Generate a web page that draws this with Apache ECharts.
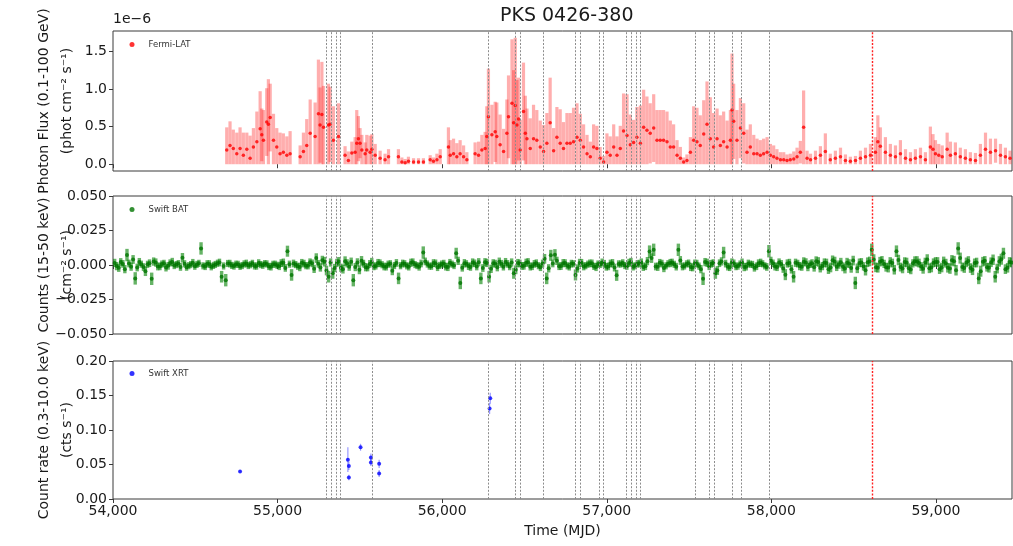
<!DOCTYPE html>
<html><head><meta charset="utf-8">
<script src="https://cdn.jsdelivr.net/npm/echarts@6/dist/echarts.min.js"></script>
<style>html,body{margin:0;padding:0;background:#fff}#c{width:1013px;height:546px}</style>
</head><body><div id="c"></div>
<script>
// ---- Fermi-LAT photon flux (units of 1e-6 phot cm^-2 s^-1) ----
const fermiT = [
54691,54711,54731,54752,54772,54792,54813,54833,54853,54874,
54894,54904,54914,54934,54944,54955,54975,54995,55015,55035,
55056,55076,55137,55157,55177,55198,55228,55248,55258,55269,
55279,55309,55319,55339,55370,55410,55430,55451,55471,55481,
55491,55501,55512,55532,55542,55562,55573,55593,55623,55653,
55674,55734,55755,55775,55795,55826,55856,55886,55927,55947,
55968,55988,56038,56049,56069,56089,56109,56130,56150,56200,
56221,56241,56261,56271,56281,56302,56322,56332,56352,56373,
56393,56403,56424,56434,56444,56454,56464,56474,56494,56505,
56515,56535,56555,56575,56596,56616,56636,56656,56677,56697,
56717,56737,56758,56778,56798,56819,56839,56859,56880,56900,
56920,56940,56960,56981,57001,57021,57042,57062,57082,57102,
57123,57143,57163,57183,57204,57224,57244,57264,57285,57305,
57325,57345,57366,57386,57406,57427,57447,57467,57487,57508,
57528,57548,57568,57589,57609,57629,57649,57670,57690,57710,
57731,57751,57761,57771,57791,57812,57832,57852,57872,57893,
57913,57933,57953,57974,57994,58014,58034,58055,58075,58095,
58115,58136,58156,58176,58196,58217,58238,58268,58298,58328,
58358,58389,58420,58450,58480,58511,58541,58572,58602,58632,
58647,58662,58693,58723,58754,58784,58815,58845,58875,58906,
58936,58966,58982,58997,59017,59038,59068,59088,59118,59148,
59179,59209,59240,59270,59301,59331,59362,59392,59422,59450];
const fermiFlux = [
0.19,0.25,0.21,0.14,0.21,0.12,0.20,0.08,0.23,0.30,
0.47,0.39,0.32,0.56,0.53,0.62,0.32,0.23,0.14,0.16,
0.12,0.14,0.10,0.17,0.25,0.41,0.37,0.67,0.52,0.66,
0.49,0.52,0.53,0.32,0.37,0.12,0.05,0.15,0.16,0.28,
0.34,0.28,0.19,0.14,0.19,0.16,0.20,0.12,0.08,0.06,
0.10,0.10,0.03,0.02,0.04,0.03,0.03,0.03,0.06,0.04,
0.06,0.10,0.23,0.12,0.14,0.10,0.14,0.10,0.06,0.14,
0.12,0.19,0.21,0.37,0.63,0.39,0.43,0.37,0.26,0.17,
0.41,0.63,0.81,0.55,0.78,0.52,0.60,0.19,0.70,0.41,
0.34,0.21,0.34,0.32,0.23,0.17,0.28,0.55,0.18,0.36,
0.28,0.21,0.28,0.28,0.30,0.36,0.32,0.23,0.14,0.10,
0.23,0.21,0.08,0.03,0.16,0.12,0.23,0.12,0.21,0.44,
0.38,0.26,0.29,0.36,0.28,0.49,0.45,0.41,0.48,0.32,
0.32,0.32,0.30,0.23,0.23,0.12,0.08,0.03,0.05,0.16,
0.32,0.30,0.25,0.40,0.53,0.34,0.23,0.34,0.25,0.30,
0.23,0.32,0.72,0.57,0.32,0.48,0.41,0.16,0.23,0.14,
0.14,0.12,0.14,0.16,0.12,0.10,0.08,0.06,0.06,0.05,
0.06,0.07,0.10,0.16,0.49,0.08,0.06,0.08,0.12,0.17,
0.06,0.08,0.10,0.05,0.04,0.05,0.08,0.10,0.12,0.16,
0.30,0.24,0.16,0.12,0.10,0.14,0.08,0.06,0.08,0.10,
0.06,0.23,0.20,0.14,0.12,0.10,0.20,0.12,0.14,0.10,
0.08,0.06,0.05,0.12,0.20,0.16,0.18,0.12,0.10,0.08];
const fermiErr = [
0.30,0.32,0.25,0.28,0.28,0.30,0.22,0.30,0.25,0.40,
0.50,0.35,0.40,0.45,0.60,0.45,0.35,0.25,0.28,0.25,
0.25,0.30,0.15,0.25,0.35,0.45,0.45,0.72,0.50,0.70,
0.55,0.55,0.50,0.45,0.44,0.12,0.12,0.15,0.20,0.44,
0.30,0.20,0.20,0.15,0.20,0.22,0.20,0.15,0.10,0.08,
0.10,0.10,0.06,0.05,0.06,0.05,0.05,0.05,0.06,0.05,
0.08,0.10,0.26,0.20,0.20,0.18,0.18,0.15,0.10,0.15,
0.18,0.20,0.22,0.40,0.64,0.40,0.40,0.45,0.40,0.30,
0.45,0.55,0.85,0.70,0.90,0.60,0.55,0.40,0.65,0.50,
0.40,0.40,0.45,0.40,0.35,0.35,0.40,0.60,0.30,0.40,
0.45,0.35,0.40,0.40,0.45,0.45,0.35,0.30,0.25,0.20,
0.30,0.30,0.15,0.08,0.25,0.25,0.30,0.25,0.30,0.50,
0.55,0.40,0.30,0.40,0.50,0.50,0.45,0.40,0.45,0.40,
0.40,0.40,0.40,0.35,0.30,0.20,0.15,0.06,0.08,0.20,
0.45,0.45,0.40,0.45,0.57,0.55,0.45,0.40,0.40,0.40,
0.35,0.40,0.75,0.50,0.40,0.40,0.40,0.30,0.30,0.25,
0.20,0.20,0.20,0.20,0.15,0.15,0.12,0.10,0.10,0.08,
0.08,0.10,0.12,0.15,0.49,0.10,0.08,0.10,0.12,0.24,
0.08,0.10,0.12,0.08,0.06,0.06,0.10,0.12,0.15,0.20,
0.35,0.25,0.20,0.15,0.15,0.18,0.12,0.10,0.12,0.12,
0.10,0.27,0.20,0.18,0.15,0.15,0.22,0.18,0.15,0.12,
0.12,0.10,0.10,0.15,0.22,0.18,0.16,0.15,0.12,0.10];

// ---- Swift BAT counts (cm^-2 s^-1), bins A ----
const batT = [
54010,54035,54060,54085,54110,54135,54160,54185,54210,54235,
54260,54285,54310,54335,54360,54385,54410,54435,54460,54485,
54510,54535,54560,54585,54610,54635,54660,54685,54710,54735,
54760,54785,54810,54835,54860,54885,54910,54935,54960,54985,
55010,55035,55060,55085,55110,55135,55160,55185,55210,55235,
55260,55285,55310,55335,55360,55385,55410,55435,55460,55485,
55510,55535,55560,55585,55610,55635,55660,55685,55710,55735,
55760,55785,55810,55835,55860,55885,55910,55935,55960,55985,
56010,56035,56060,56085,56110,56135,56160,56185,56210,56235,
56260,56285,56310,56335,56360,56385,56410,56435,56460,56485,
56510,56535,56560,56585,56610,56635,56660,56685,56710,56735,
56760,56785,56810,56835,56860,56885,56910,56935,56960,56985,
57010,57035,57060,57085,57110,57135,57160,57185,57210,57235,
57260,57285,57310,57335,57360,57385,57410,57435,57460,57485,
57510,57535,57560,57585,57610,57635,57660,57685,57710,57735,
57760,57785,57810,57835,57860,57885,57910,57935,57960,57985,
58010,58035,58060,58085,58110,58135,58160,58185,58210,58235,
58260,58285,58310,58335,58360,58385,58410,58435,58460,58485,
58510,58535,58560,58585,58610,58635,58660,58685,58710,58735,
58760,58785,58810,58835,58860,58885,58910,58935,58960,58985,
59010,59035,59060,59085,59110,59135,59160,59185,59210,59235,
59260,59285,59310,59335,59360,59385,59410,59435,59460];
const batRate = [
0.0015,-0.0020,0.0008,0.0072,-0.0012,-0.0097,0.0021,-0.0015,0.0005,-0.0100,
0.0018,-0.0010,0.0012,-0.0006,0.0022,0.0003,-0.0014,0.0009,-0.0005,0.0016,
0.0004,0.0120,-0.0011,0.0007,-0.0003,0.0013,-0.0085,-0.0110,0.0010,-0.0008,
0.0005,-0.0004,0.0011,0.0002,-0.0007,0.0014,-0.0002,0.0008,-0.0012,0.0006,
-0.0009,0.0017,0.0100,-0.0072,0.0003,-0.0015,0.0010,-0.0006,0.0012,0.0050,
-0.0018,0.0024,-0.0085,-0.0060,0.0015,-0.0020,0.0028,-0.0012,-0.0110,0.0019,
0.0030,-0.0016,0.0008,-0.0010,0.0014,0.0002,-0.0012,0.0009,-0.0004,-0.0097,
0.0011,-0.0006,0.0016,0.0003,-0.0013,0.0090,0.0007,-0.0009,0.0012,-0.0003,
0.0010,-0.0014,0.0006,0.0085,-0.0130,0.0013,-0.0008,0.0018,-0.0011,-0.0097,
0.0020,-0.0085,0.0012,-0.0016,0.0009,0.0021,-0.0010,-0.0060,0.0014,-0.0007,
0.0016,-0.0012,0.0008,-0.0005,0.0011,-0.0097,0.0070,0.0075,-0.0009,0.0013,
-0.0006,0.0010,-0.0072,0.0015,-0.0011,0.0006,0.0012,-0.0014,0.0004,0.0009,
-0.0010,0.0013,-0.0075,0.0007,-0.0004,0.0015,-0.0012,0.0008,0.0018,-0.0009,
0.0097,0.0110,-0.0013,0.0010,-0.0006,0.0014,0.0005,0.0110,-0.0011,0.0008,
-0.0014,0.0012,-0.0008,-0.0100,0.0016,0.0009,-0.0060,0.0013,0.0090,-0.0012,
0.0018,-0.0010,0.0007,-0.0015,0.0011,0.0004,-0.0009,0.0016,-0.0006,0.0100,
0.0012,-0.0014,0.0008,-0.0070,0.0015,-0.0085,0.0010,-0.0012,0.0019,0.0006,
-0.0016,0.0022,-0.0008,0.0014,-0.0018,0.0025,0.0003,-0.0013,0.0017,-0.0021,
-0.0130,0.0015,-0.0010,0.0020,0.0110,-0.0017,0.0024,0.0008,-0.0019,0.0014,
0.0100,-0.0015,0.0021,-0.0023,0.0012,0.0026,-0.0011,0.0018,-0.0024,0.0016,
0.0022,-0.0018,0.0013,-0.0026,0.0028,0.0120,-0.0014,0.0019,-0.0022,0.0015,
-0.0097,0.0024,-0.0016,0.0020,-0.0085,0.0026,0.0085,-0.0020,0.0018];
const batErr = [
0.0030,0.0030,0.0028,0.0045,0.0030,0.0045,0.0030,0.0028,0.0026,0.0045,
0.0030,0.0028,0.0026,0.0028,0.0030,0.0026,0.0028,0.0026,0.0026,0.0028,
0.0026,0.0045,0.0026,0.0028,0.0026,0.0026,0.0042,0.0045,0.0028,0.0026,
0.0026,0.0026,0.0028,0.0026,0.0026,0.0028,0.0026,0.0026,0.0028,0.0026,
0.0028,0.0030,0.0040,0.0042,0.0026,0.0030,0.0028,0.0026,0.0028,0.0035,
0.0030,0.0035,0.0042,0.0040,0.0030,0.0030,0.0035,0.0030,0.0045,0.0030,
0.0035,0.0030,0.0028,0.0028,0.0030,0.0026,0.0028,0.0026,0.0026,0.0042,
0.0028,0.0026,0.0030,0.0026,0.0028,0.0045,0.0026,0.0026,0.0028,0.0026,
0.0028,0.0030,0.0026,0.0040,0.0045,0.0030,0.0028,0.0030,0.0028,0.0042,
0.0030,0.0042,0.0030,0.0030,0.0028,0.0030,0.0028,0.0040,0.0030,0.0028,
0.0030,0.0028,0.0028,0.0026,0.0028,0.0042,0.0040,0.0040,0.0028,0.0030,
0.0026,0.0028,0.0040,0.0030,0.0028,0.0026,0.0028,0.0030,0.0026,0.0028,
0.0028,0.0030,0.0040,0.0026,0.0026,0.0030,0.0028,0.0026,0.0030,0.0028,
0.0045,0.0045,0.0030,0.0028,0.0026,0.0030,0.0026,0.0045,0.0028,0.0026,
0.0030,0.0028,0.0026,0.0045,0.0030,0.0028,0.0040,0.0028,0.0042,0.0028,
0.0030,0.0028,0.0026,0.0030,0.0028,0.0026,0.0028,0.0030,0.0026,0.0045,
0.0028,0.0030,0.0028,0.0040,0.0030,0.0042,0.0028,0.0030,0.0030,0.0028,
0.0032,0.0035,0.0030,0.0032,0.0035,0.0035,0.0030,0.0032,0.0035,0.0035,
0.0045,0.0032,0.0030,0.0035,0.0045,0.0035,0.0035,0.0030,0.0035,0.0032,
0.0042,0.0032,0.0035,0.0035,0.0030,0.0038,0.0032,0.0035,0.0035,0.0032,
0.0035,0.0035,0.0032,0.0038,0.0038,0.0045,0.0032,0.0035,0.0035,0.0032,
0.0042,0.0035,0.0032,0.0035,0.0042,0.0038,0.0040,0.0035,0.0035];

// ---- Swift BAT counts, bins B (interleaved) ----
const batT2 = [
54022,54047,54072,54097,54122,54147,54172,54197,54222,54247,
54272,54297,54322,54347,54372,54397,54422,54447,54472,54497,
54522,54547,54572,54597,54622,54647,54672,54697,54722,54747,
54772,54797,54822,54847,54872,54897,54922,54947,54972,54997,
55022,55047,55072,55097,55122,55147,55172,55197,55222,55247,
55272,55297,55322,55347,55372,55397,55422,55447,55472,55497,
55522,55547,55572,55597,55622,55647,55672,55697,55722,55747,
55772,55797,55822,55847,55872,55897,55922,55947,55972,55997,
56022,56047,56072,56097,56122,56147,56172,56197,56222,56247,
56272,56297,56322,56347,56372,56397,56422,56447,56472,56497,
56522,56547,56572,56597,56622,56647,56672,56697,56722,56747,
56772,56797,56822,56847,56872,56897,56922,56947,56972,56997,
57022,57047,57072,57097,57122,57147,57172,57197,57222,57247,
57272,57297,57322,57347,57372,57397,57422,57447,57472,57497,
57522,57547,57572,57597,57622,57647,57672,57697,57722,57747,
57772,57797,57822,57847,57872,57897,57922,57947,57972,57997,
58022,58047,58072,58097,58122,58147,58172,58197,58222,58247,
58272,58297,58322,58347,58372,58397,58422,58447,58472,58497,
58522,58547,58572,58597,58622,58647,58672,58697,58722,58747,
58772,58797,58822,58847,58872,58897,58922,58947,58972,58997,
59022,59047,59072,59097,59122,59147,59172,59197,59222,59247,
59272,59297,59322,59347,59372,59397,59422,59447];
const batRate2 = [
-0.0008,0.0022,-0.0030,0.0011,0.0040,-0.0018,0.0006,-0.0045,0.0013,0.0025,
-0.0011,0.0007,-0.0019,0.0015,-0.0004,0.0010,0.0052,-0.0016,0.0003,-0.0009,
0.0012,-0.0006,0.0009,-0.0013,0.0004,0.0018,-0.0007,0.0011,-0.0003,0.0006,
-0.0010,0.0008,-0.0004,0.0012,-0.0008,0.0003,0.0010,-0.0011,0.0005,-0.0002,
0.0014,-0.0021,0.0006,0.0011,-0.0009,0.0016,-0.0005,0.0020,-0.0028,0.0009,
0.0035,-0.0040,0.0018,-0.0022,0.0026,-0.0030,0.0012,0.0024,-0.0015,-0.0035,
0.0010,-0.0018,0.0022,-0.0007,0.0013,-0.0011,0.0006,-0.0042,0.0015,-0.0005,
0.0009,-0.0012,0.0020,-0.0004,0.0011,0.0026,-0.0008,0.0014,-0.0016,0.0007,
-0.0012,0.0016,-0.0004,0.0030,-0.0020,0.0009,-0.0014,0.0012,0.0020,-0.0022,
0.0015,-0.0028,0.0010,0.0024,-0.0012,0.0008,0.0018,-0.0035,0.0011,-0.0006,
0.0020,-0.0009,0.0013,-0.0016,0.0045,-0.0024,0.0011,0.0030,-0.0008,0.0014,
-0.0012,0.0009,-0.0025,0.0016,-0.0005,0.0012,-0.0010,0.0007,0.0019,-0.0013,
0.0011,-0.0019,0.0008,0.0014,-0.0009,0.0022,-0.0006,0.0010,-0.0015,0.0028,
0.0050,-0.0011,0.0016,-0.0022,0.0009,0.0018,-0.0012,0.0033,-0.0007,0.0012,
-0.0018,0.0010,-0.0030,0.0021,-0.0009,0.0014,-0.0040,0.0026,0.0010,-0.0016,
0.0012,-0.0008,0.0019,-0.0012,0.0006,-0.0020,0.0013,0.0009,-0.0014,0.0030,
-0.0010,0.0018,-0.0025,0.0011,-0.0030,0.0016,-0.0008,0.0024,-0.0015,0.0012,
0.0028,-0.0022,0.0016,-0.0030,0.0034,-0.0012,0.0020,-0.0026,0.0010,0.0032,
-0.0024,0.0018,-0.0038,0.0026,0.0040,-0.0020,0.0030,-0.0016,0.0022,-0.0034,
0.0036,-0.0025,0.0018,-0.0032,0.0028,0.0014,-0.0028,0.0040,-0.0018,0.0022,
-0.0030,0.0026,-0.0020,0.0034,-0.0038,0.0050,-0.0022,0.0029,-0.0035,0.0018,
-0.0045,0.0030,-0.0020,0.0038,-0.0026,0.0042,-0.0030,0.0022];
const batErr2 = [
0.0030,0.0028,0.0030,0.0028,0.0032,0.0028,0.0026,0.0035,0.0028,0.0030,
0.0028,0.0026,0.0028,0.0026,0.0026,0.0026,0.0035,0.0026,0.0026,0.0026,
0.0026,0.0026,0.0026,0.0026,0.0026,0.0028,0.0026,0.0026,0.0026,0.0026,
0.0026,0.0026,0.0026,0.0026,0.0026,0.0026,0.0026,0.0026,0.0026,0.0026,
0.0028,0.0028,0.0026,0.0028,0.0026,0.0028,0.0026,0.0028,0.0030,0.0028,
0.0032,0.0035,0.0030,0.0030,0.0032,0.0032,0.0030,0.0030,0.0030,0.0032,
0.0028,0.0028,0.0030,0.0026,0.0028,0.0028,0.0026,0.0032,0.0028,0.0026,
0.0026,0.0028,0.0028,0.0026,0.0028,0.0028,0.0026,0.0028,0.0028,0.0026,
0.0028,0.0028,0.0026,0.0030,0.0028,0.0026,0.0028,0.0028,0.0030,0.0028,
0.0030,0.0030,0.0028,0.0030,0.0028,0.0028,0.0030,0.0032,0.0028,0.0028,
0.0030,0.0028,0.0028,0.0028,0.0035,0.0030,0.0028,0.0030,0.0028,0.0028,
0.0028,0.0026,0.0030,0.0028,0.0026,0.0028,0.0026,0.0026,0.0028,0.0028,
0.0028,0.0028,0.0026,0.0028,0.0026,0.0030,0.0026,0.0028,0.0028,0.0030,
0.0035,0.0028,0.0028,0.0030,0.0026,0.0028,0.0028,0.0032,0.0026,0.0028,
0.0028,0.0028,0.0030,0.0030,0.0028,0.0028,0.0032,0.0030,0.0028,0.0028,
0.0028,0.0026,0.0028,0.0028,0.0026,0.0028,0.0028,0.0026,0.0028,0.0030,
0.0030,0.0030,0.0032,0.0030,0.0032,0.0030,0.0030,0.0032,0.0030,0.0030,
0.0035,0.0032,0.0032,0.0035,0.0035,0.0032,0.0032,0.0035,0.0032,0.0035,
0.0035,0.0032,0.0038,0.0035,0.0038,0.0035,0.0035,0.0032,0.0035,0.0035,
0.0038,0.0035,0.0035,0.0035,0.0035,0.0032,0.0035,0.0038,0.0035,0.0035,
0.0035,0.0035,0.0035,0.0038,0.0038,0.0040,0.0035,0.0035,0.0038,0.0035,
0.0040,0.0035,0.0035,0.0038,0.0035,0.0040,0.0035,0.0035];

// ---- Swift XRT count rate (cts s^-1) ----
const xrtT    = [54772, 55427, 55433, 55433, 55504, 55567, 55567, 55617, 55617, 56288, 56292];
const xrtRate = [0.040, 0.057, 0.048, 0.031, 0.075, 0.060, 0.053, 0.051, 0.037, 0.131, 0.146];
const xrtErr  = [0.002, 0.018, 0.006, 0.004, 0.005, 0.006, 0.005, 0.006, 0.005, 0.008, 0.008];

// ---- marked epochs (MJD) ----
const greyLines = [55295,55325,55356,55380,55578,56278,56445,56474,56614,56806,56839,56952,56981,
                   57119,57147,57178,57204,57538,57625,57651,57761,57820,57986];
const redLines = [58612];

const xTicks = [54000,55000,56000,57000,58000,59000];

const FONT = 'DejaVu Sans';
const TXT = '#1a1a1a';
const AX = '#3a3a3a';

const chart = echarts.init(document.getElementById('c'), null, {renderer:'canvas'});

function errRender(color, width){
  return function(params, api){
    const p1 = api.coord([api.value(0), api.value(1)]);
    const p2 = api.coord([api.value(0), api.value(2)]);
    return {type:'line', shape:{x1:p1[0], y1:p1[1], x2:p2[0], y2:p2[1]},
            style:{stroke:color, lineWidth:width}};
  };
}
const fermiBars = fermiT.map((t,i)=>[t, Math.max(fermiFlux[i]-fermiErr[i],0), fermiFlux[i]+fermiErr[i]]);
const batAllT = batT.concat(batT2), batAllR = batRate.concat(batRate2), batAllE = batErr.concat(batErr2);
const batBars = batAllT.map((t,i)=>[t, batAllR[i]-batAllE[i], batAllR[i]+batAllE[i]]);
const xrtBars = xrtT.map((t,i)=>[t, xrtRate[i]-xrtErr[i], xrtRate[i]+xrtErr[i]]);

function makeMark(){
  return {
    silent:true, symbol:['none','none'], label:{show:false}, animation:false,
    data: greyLines.map(t=>({xAxis:t, lineStyle:{color:'#8c8c8c', width:1, type:[2,1.6]}}))
          .concat(redLines.map(t=>({xAxis:t, lineStyle:{color:'#ff2020', width:1.4, type:[2,1.6]}})))
  };
}

const tops = [31,196,361], heights = [140,138,138];
const fmtMinus = (s)=> s.replace('-', '\u2212');

const option = {
  animation:false,
  backgroundColor:'#fff',
  title:{text:'PKS 0426-380', left:500, top:7, padding:0,
         textStyle:{fontFamily:FONT, fontSize:19, fontWeight:'normal', color:TXT}},
  graphic:[{type:'text', left:113, top:12, style:{text:'1e\u22126', font:'14px "DejaVu Sans"', fill:TXT}}],
  grid: tops.map((t,i)=>({left:113, width:899, top:t, height:heights[i], show:true,
                          outerBoundsMode:'none', containLabel:false,
                          borderColor:AX, borderWidth:1, backgroundColor:'transparent'})),
  legend:[
    {data:['Fermi-LAT'], left:129.5, top:40, padding:0},
    {data:['Swift BAT'], left:129.5, top:205, padding:0},
    {data:['Swift XRT'], left:129.5, top:369, padding:0}
  ].map(l=>Object.assign(l,{icon:'circle', itemWidth:5, itemHeight:5,
       textStyle:{fontFamily:FONT, fontSize:8.5, color:'#333', padding:[0,0,0,9]}})),
  xAxis: [0,1,2].map(i=>({
    type:'value', gridIndex:i, min:54000, max:59462,
    axisLine:{show:false},
    axisTick:{show:true, length:4, lineStyle:{color:AX}, customValues:xTicks},
    axisLabel:{show:i===2, customValues:xTicks, fontFamily:FONT, fontSize:14, color:TXT, margin:5},
    splitLine:{show:false},
    name: i===2 ? 'Time (MJD)' : '', nameLocation:'middle', nameGap:25, nameMoveOverlap:false,
    nameTextStyle:{fontFamily:FONT, fontSize:14, color:TXT}
  })),
  yAxis: [
    {min:-0.09, max:1.77, ticks:[0,0.5,1,1.5], dec:1,
     name:'Photon Flux (0.1-100 GeV)\n(phot cm\u207B\u00B2 s\u207B\u00B9)'},
    {min:-0.05, max:0.05, ticks:[-0.05,-0.025,0,0.025,0.05], dec:3,
     name:'Counts (15-50 keV)\n(cm\u207B\u00B2 s\u207B\u00B9)'},
    {min:0, max:0.2, ticks:[0,0.05,0.1,0.15,0.2], dec:2,
     name:'Count rate (0.3-10.0 keV)\n(cts s\u207B\u00B9)'}
  ].map((a,i)=>({
    type:'value', gridIndex:i, min:a.min, max:a.max,
    axisLine:{show:false},
    axisTick:{show:true, length:4, lineStyle:{color:AX}, customValues:a.ticks},
    axisLabel:{customValues:a.ticks, fontFamily:FONT, fontSize:14, color:TXT, margin:6,
               formatter:(v)=>fmtMinus(Number(v).toFixed(a.dec))},
    splitLine:{show:false},
    name:a.name, nameLocation:'middle', nameRotate:90, nameGap:34, nameMoveOverlap:false,
    nameTextStyle:{fontFamily:FONT, fontSize:14, color:TXT, lineHeight:23}
  })),
  series:[
    {type:'custom', xAxisIndex:0, yAxisIndex:0, data:fermiBars, encode:{x:0,y:[1,2]},
     renderItem:errRender('rgba(255,30,30,0.36)',3.2), clip:true, silent:true},
    {type:'scatter', name:'Fermi-LAT', xAxisIndex:0, yAxisIndex:0,
     data:fermiT.map((t,i)=>[t,fermiFlux[i]]), symbolSize:3.5,
     itemStyle:{color:'#ff0000'}, markLine:makeMark(), z:3},
    {type:'custom', xAxisIndex:1, yAxisIndex:1, data:batBars, encode:{x:0,y:[1,2]},
     renderItem:errRender('rgba(0,128,0,0.6)',3.4), clip:true, silent:true},
    {type:'scatter', name:'Swift BAT', xAxisIndex:1, yAxisIndex:1,
     data:batAllT.map((t,i)=>[t,batAllR[i]]), symbolSize:4,
     itemStyle:{color:'#007400'}, markLine:makeMark(), z:3},
    {type:'custom', xAxisIndex:2, yAxisIndex:2, data:xrtBars, encode:{x:0,y:[1,2]},
     renderItem:errRender('rgba(0,0,255,0.4)',1.2), clip:true, silent:true},
    {type:'scatter', name:'Swift XRT', xAxisIndex:2, yAxisIndex:2,
     data:xrtT.map((t,i)=>[t,xrtRate[i]]), symbolSize:4,
     itemStyle:{color:'#0000ff'}, markLine:makeMark(), z:3}
  ]
};
chart.setOption(option);
</script></body></html>
